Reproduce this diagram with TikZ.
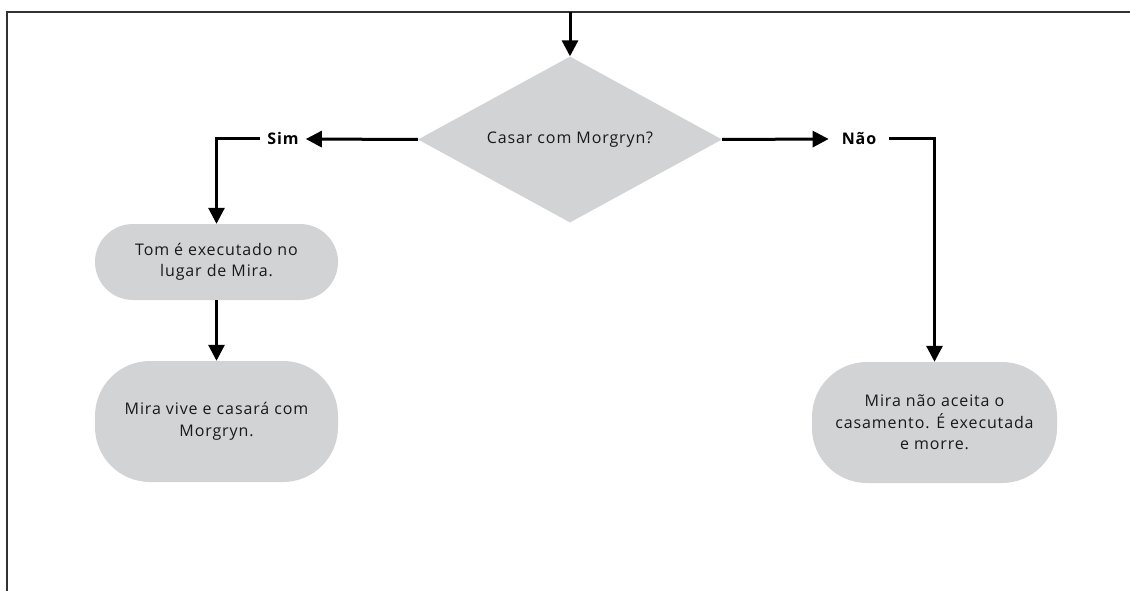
\documentclass[tikz,border=0pt]{standalone}
\usepackage{fontspec}
\setmainfont[LetterSpace=5.5]{Open Sans}
\usetikzlibrary{arrows.meta,shapes.geometric}
\definecolor{boxgray}{RGB}{210,211,213}
\definecolor{framegray}{RGB}{50,50,50}
\begin{document}
\begin{tikzpicture}[x=1pt,y=-1pt,
  every node/.style={font=\fontsize{16}{21.5}\selectfont, text=black!90},
  frameline/.style={draw=framegray, line width=1.5pt},
  flow/.style={line width=3pt, -{Triangle[length=16pt,width=16pt]}},
  decision/.style={shape=diamond, fill=boxgray, minimum width=304pt, minimum height=166pt, aspect=1.83, inner sep=0pt},
  stepbox/.style={rectangle, fill=boxgray, minimum width=243pt, align=center, inner sep=0pt},
  lbl/.style={font=\fontsize{16}{18}\bfseries\selectfont, text=black, inner ysep=0pt}
]
\useasboundingbox (0,0) rectangle (1130,591);
% page frame
\draw[frameline] (7,591) -- (7,12) -- (1130,12);

% nodes
\node[decision] (q) at (570,139.5) {Casar com Morgryn?};
\node[lbl, inner xsep=7pt] (sim) at (283,139) {Sim};
\node[lbl, inner xsep=13pt] (nao) at (859,139) {Não};
\node[stepbox, minimum height=76pt, rounded corners=38pt] (tom) at (216.5,262) {Tom é executado no\\lugar de Mira.};
\node[stepbox, minimum height=121pt, rounded corners=55pt] (vive) at (216.5,421.5) {Mira vive e casará com\\Morgryn.};
\node[stepbox, minimum height=121pt, rounded corners=55pt, minimum width=245pt] (morre) at (934.5,422.5) {Mira não aceita o\\casamento. É executada\\e morre.};
\coordinate (entry) at (570,12);

% connectors
\draw[flow] (entry) -- (q.north);
\draw[flow] (q.west) -- (sim.east);
\draw[flow] (sim.west) -| (tom.north);
\draw[flow] (tom.south) -- (vive.north);
\draw[flow] (q.east) -- (nao.west);
\draw[flow] (nao.east) -| (morre.north);
\end{tikzpicture}
\end{document}
